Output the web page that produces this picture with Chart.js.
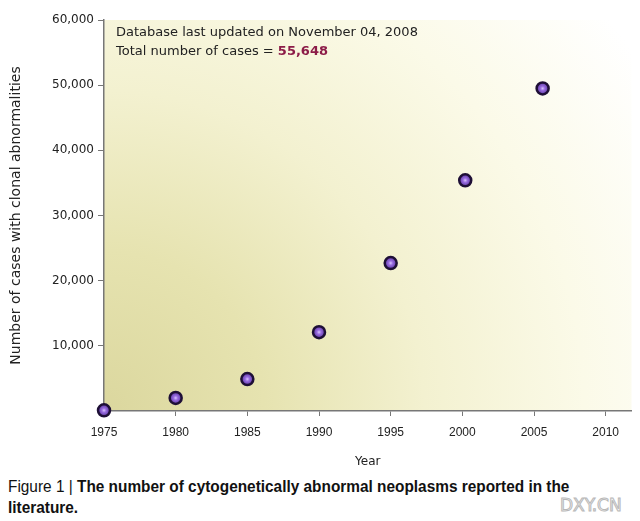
<!DOCTYPE html>
<html><head><meta charset="utf-8">
<script src="https://cdn.jsdelivr.net/npm/chart.js@4/dist/chart.umd.min.js"></script>
<style>
html,body{margin:0;padding:0;background:#fff;width:640px;height:521px;overflow:hidden;}
#wrap{position:relative;width:640px;height:521px;}
#c{position:absolute;left:0;top:0;}
#cap{position:absolute;left:8px;top:476px;font-family:"Liberation Sans",sans-serif;font-size:17px;line-height:21px;color:#111;transform:scaleX(0.905);transform-origin:left top;white-space:nowrap;}
#cap b{font-weight:bold;}
#wm{position:absolute;left:560px;top:495px;font-family:"DejaVu Sans",sans-serif;font-size:17px;color:#f4f4f4;-webkit-text-stroke:1px #b8b8b8;}
</style></head>
<body><div id="wrap"><canvas id="c" width="640" height="470"></canvas>
<div id="cap">Figure 1 | <b>The number of cytogenetically abnormal neoplasms reported in the<br>literature.</b></div>
<div id="wm">DXY.CN</div></div>
<script>
const years = [1975, 1980, 1985, 1990, 1995, 2000.2, 2005.6];
const cases = [100, 2000, 4900, 12100, 22700, 35400, 49500];
const xTicks = [1975, 1980, 1985, 1990, 1995, 2000, 2005, 2010];
const yTicks = [0, 10000, 20000, 30000, 40000, 50000, 60000];
const noteLine1 = "Database last updated on November 04, 2008";
const noteLine2 = "Total number of cases = ";
const noteTotal = "55,648";

const bgPlugin = {
  id: 'bg',
  beforeDraw(chart) {
    const {ctx, chartArea: a} = chart;
    const g = ctx.createRadialGradient(a.left, a.bottom, 0, a.left, a.bottom, 640);
    g.addColorStop(0, '#dbd79e');
    g.addColorStop(0.25, '#e6e3b0');
    g.addColorStop(0.5, '#f3f1d0');
    g.addColorStop(0.75, '#fbfae8');
    g.addColorStop(1, '#ffffff');
    ctx.save();
    ctx.fillStyle = g;
    ctx.fillRect(a.left, a.top, a.right - a.left, a.bottom - a.top);
    ctx.restore();
  },
  afterDraw(chart) {
    const {ctx, chartArea: a} = chart;
    ctx.save();
    ctx.font = '13px "DejaVu Sans", sans-serif';
    ctx.fillStyle = '#222';
    ctx.textBaseline = 'middle';
    ctx.fillText(noteLine1, a.left + 12, 33);
    ctx.fillText(noteLine2, a.left + 12, 52);
    const w = ctx.measureText(noteLine2).width;
    ctx.font = 'bold 13px "DejaVu Sans", sans-serif';
    ctx.fillStyle = '#8c1c48';
    ctx.fillText(noteTotal, a.left + 12 + w, 52);
    ctx.restore();
  }
};

function pointFill(c) {
  const chart = c.chart;
  if (!c.raw || !chart.scales || !chart.scales.x || !chart.scales.y) return '#7d52c6';
  const px = chart.scales.x.getPixelForValue(c.raw.x);
  const py = chart.scales.y.getPixelForValue(c.raw.y);
  if (!isFinite(px) || !isFinite(py)) return '#7d52c6';
  const g = chart.ctx.createRadialGradient(px, py, 0, px, py, 6);
  g.addColorStop(0, '#d9c4ff');
  g.addColorStop(0.35, '#9a6ee0');
  g.addColorStop(1, '#5a34a0');
  return g;
}

new Chart(document.getElementById('c'), {
  type: 'scatter',
  data: {
    datasets: [{
      data: years.map((y, i) => ({x: y, y: cases[i]})),
      pointRadius: 6,
      pointBackgroundColor: pointFill,
      pointBorderColor: '#1e0f36',
      pointBorderWidth: 2.5,
      pointHoverRadius: 6,
      clip: false
    }]
  },
  options: {
    responsive: false,
    animation: false,
    layout: {padding: {top: 20, right: 8, left: 0, bottom: 0}},
    plugins: {legend: {display: false}, tooltip: {enabled: false}},
    scales: {
      x: {
        type: 'linear', min: 1975, max: 2011.8,
        afterBuildTicks: s => { s.ticks = xTicks.map(v => ({value: v})); },
        afterFit: s => { s.height = 59; },
        ticks: {callback: v => String(v), color: '#222', font: {family: '"Liberation Sans",sans-serif', size: 12}, padding: 9, maxRotation: 0},
        grid: {drawOnChartArea: false, drawTicks: true, tickLength: 5, color: '#777'},
        border: {color: '#777', width: 1.5},
        title: {display: true, text: 'Year', color: '#222', font: {family: '"DejaVu Sans",sans-serif', size: 12}, padding: {top: 0, bottom: 1}}
      },
      y: {
        min: 0, max: 60000,
        afterBuildTicks: s => { s.ticks = yTicks.map(v => ({value: v})); },
        afterFit: s => { s.width = 104; },
        ticks: {callback: v => v === 0 ? '' : v.toLocaleString('en-US'), color: '#222', font: {family: '"DejaVu Sans",sans-serif', size: 12}, padding: 4},
        grid: {drawOnChartArea: false, drawTicks: true, tickLength: 6, color: '#777'},
        border: {color: '#777', width: 1.5},
        title: {display: true, text: 'Number of cases with clonal abnormalities', color: '#222', font: {family: '"DejaVu Sans",sans-serif', size: 14}, padding: {top: 8, bottom: 0}}
      }
    }
  },
  plugins: [bgPlugin]
});
</script></body></html>
